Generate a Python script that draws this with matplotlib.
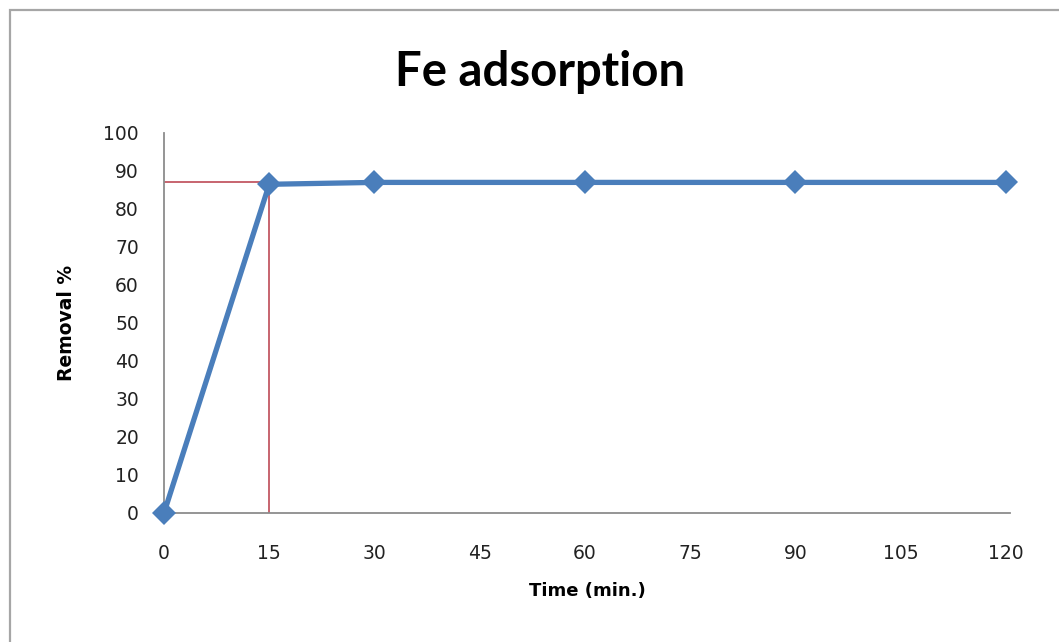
import matplotlib
matplotlib.use("Agg")
import matplotlib.pyplot as plt
from matplotlib.patches import Rectangle

# adsorption run: contact time vs removal
time_min = [0, 15, 30, 60, 90, 120]
removal_pct = [0, 86.5, 87, 87, 87, 87]
x_ticks = [0, 15, 30, 45, 60, 75, 90, 105, 120]
y_ticks = [0, 10, 20, 30, 40, 50, 60, 70, 80, 90, 100]
equil_time = 15
equil_removal = 87

W, H = 1059, 642
fig = plt.figure(figsize=(W / 100, H / 100), dpi=100)

# chart frame (runs off the right and bottom edges)
fig.patches.append(Rectangle((10 / W, -0.05), 1.1, 1 - 10 / H + 0.05,
                             transform=fig.transFigure, fill=False,
                             edgecolor="#a6a6a6", linewidth=1.6))

ax = fig.add_axes([164 / W, 1 - 513 / H, (1010 - 164) / W, (513 - 133) / H])

# guide lines to the equilibrium point
ax.plot([0, equil_time], [equil_removal, equil_removal], color="#b83a48", lw=1.1, zorder=2)
ax.plot([equil_time, equil_time], [0, equil_removal], color="#b83a48", lw=1.1, zorder=2)

ax.plot(time_min, removal_pct, color="#4a7ebb", lw=3.8, marker="D",
        markersize=12, markeredgewidth=0, zorder=3, clip_on=False)

ax.set_xlim(0, 120.6)
ax.set_ylim(0, 100)
ax.set_xticks(x_ticks)
ax.set_yticks(y_ticks)
ax.tick_params(length=0, labelsize=13.5, colors="#222222")
ax.tick_params(axis="x", pad=22)
ax.tick_params(axis="y", pad=18)
for s in ["top", "right"]:
    ax.spines[s].set_visible(False)
for s in ["left", "bottom"]:
    ax.spines[s].set_color("#8c8c8c")
    ax.spines[s].set_linewidth(1.3)

ax.set_xlabel("Time (min.)", fontsize=13, fontweight="bold", labelpad=14)
ax.set_ylabel("Removal %", fontsize=13.5, fontweight="bold", labelpad=20)

fig.text(540 / W, 1 - 72 / H, "Fe adsorption", fontsize=34, fontweight="bold",
         ha="center", va="center", family="Lato")

fig.savefig("out.png", dpi=100, facecolor="white")
